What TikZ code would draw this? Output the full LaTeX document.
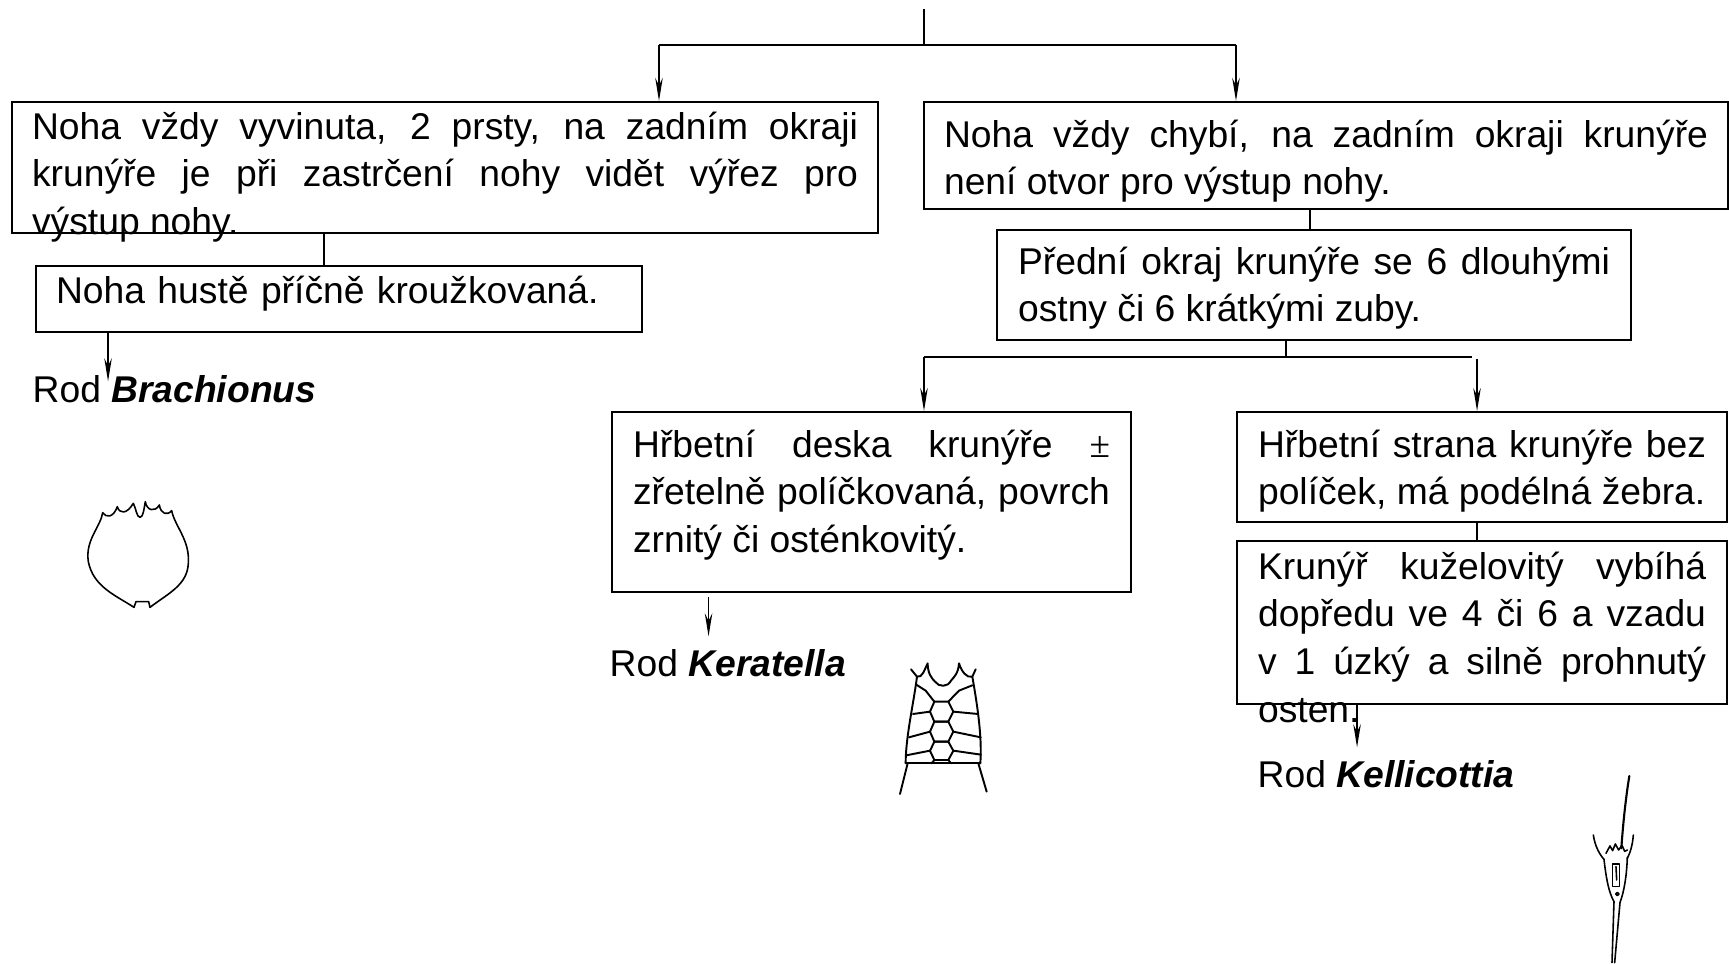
\documentclass[tikz,border=0pt]{standalone}
\usepackage{fontspec}
\setmainfont{Liberation Sans}
\newfontfamily\pmfont{Liberation Serif}
\usetikzlibrary{arrows.meta}
\hyphenpenalty=10000
\exhyphenpenalty=10000
\tolerance=10000
\hbadness=10000

\begin{document}
\begin{tikzpicture}[
  x=0.1mm, y=-0.1mm,
  font=\fontsize{10.6pt}{13.6pt}\selectfont,
  box/.style={draw, line width=0.6pt, anchor=north west, align=justify,
              inner ysep=0pt},
  genus/.style={anchor=base west, inner sep=0pt},
  link/.style={line width=0.45pt},
  arr/.style={link, -{Stealth[length=2.3mm, width=0.75mm]}},
  sketch/.style={line width=0.45pt, line join=round, line cap=round},
]
\useasboundingbox[fill=white] (0,0) rectangle (1729,964);

% ---- first couplet ------------------------------------------------------
\coordinate (root)  at (924,9);
\coordinate (fork)  at (924,45);
\coordinate (forkL) at (659,45);
\coordinate (forkR) at (1236,45);

\node[box, text width=82.6mm, inner xsep=2mm, text height=3.7mm, text depth=9.4mm]
  (foot) at (11,101)
  {Noha vždy vyvinuta, 2 prsty, na zadním okraji\linebreak
   krunýře je při zastrčení nohy vidět výřez pro\linebreak
   výstup nohy.};
\node[box, text width=76.4mm, inner xsep=2mm, text height=4.5mm, text depth=6.2mm]
  (nofoot) at (923,101)
  {Noha vždy chybí, na zadním okraji krunýře\linebreak
   není otvor pro výstup nohy.};

\draw[link] (root) -- (fork);
\draw[link] (forkL) -- (forkR);
\draw[arr] (forkL) -- (forkL |- foot.north);
\draw[arr] (forkR) -- (forkR |- nofoot.north);

% ---- left branch --------------------------------------------------------
\node[box, align=left, text width=56.6mm, inner xsep=2mm, text height=3.7mm,
      text depth=2.9mm]
  (ringed) at (35,265) {Noha hustě příčně kroužkovaná.};
\draw[link] ([xshift=-1.5mm]ringed.north) -- ([xshift=-1.5mm]ringed.north |- foot.south);

\node[genus] (brachionus) at (32,403) {Rod \textbf{\textit{Brachionus}}};
\draw[arr, shorten >=-0.6mm] ([xshift=-23.1mm]ringed.south)
  -- ([xshift=-23.1mm]ringed.south |- brachionus.north);

% ---- right branch -------------------------------------------------------
\node[box, text width=59.2mm, inner xsep=2.1mm, text height=4.4mm, text depth=6.6mm]
  (teeth) at (996,229)
  {Přední okraj krunýře se 6 dlouhými\linebreak
   ostny či 6 krátkými zuby.};
\draw[link] ([xshift=-0.4mm]teeth.north) -- ([xshift=-0.4mm]teeth.north |- nofoot.south);

\coordinate (splitL) at (924,357);
\coordinate (splitR) at (1472,357);
\draw[link] ([xshift=-2.8mm]teeth.south) -- ([xshift=-2.8mm]teeth.south |- splitL);
\draw[link] (splitL) -- (splitR);

\node[box, text width=47.7mm, inner xsep=2.1mm, text height=4.5mm, text depth=13.5mm]
  (plates) at (611,411)
  {Hřbetní deska krunýře {\pmfont ±}\linebreak
   zřetelně políčkovaná, povrch\linebreak
   zrnitý či osténkovitý.};
\node[box, text width=44.8mm, inner xsep=2.1mm, text height=4.5mm, text depth=6.5mm]
  (ribs) at (1236,411)
  {Hřbetní strana krunýře bez\linebreak
   políček, má podélná žebra.};
\draw[arr] (splitL) -- (splitL |- plates.north);
\draw[arr] ([xshift=-0.5mm, yshift=-0.2mm]ribs.north |- splitR) -- ([xshift=-0.5mm]ribs.north);

\node[box, text width=44.8mm, inner xsep=2.1mm, text height=3.8mm, text depth=12.5mm]
  (cone) at (1236,540)
  {Krunýř kuželovitý vybíhá\linebreak
   dopředu ve 4 či 6 a vzadu\linebreak
   v 1 úzký a silně prohnutý\linebreak
   osten.};
\draw[link] ([xshift=-0.5mm]cone.north) -- ([xshift=-0.5mm]cone.north |- ribs.south);

\node[genus] (keratella)   at (609,677)  {Rod \textbf{\textit{Keratella}}};
\node[genus] (kellicottia) at (1257,788) {Rod \textbf{\textit{Kellicottia}}};
\draw[arr, shorten >=1.3mm] ([xshift=-16.3mm, yshift=-0.4mm]plates.south)
  -- ([xshift=-16.3mm]plates.south |- keratella.north);
\draw[arr, shorten >=1.3mm] ([xshift=-12.5mm]cone.south)
  -- ([xshift=-12.5mm]cone.south |- kellicottia.north);

% ---- Brachionus lorica --------------------------------------------------
\begin{scope}[shift={(80,490)}, scale=1/3]
  \draw[sketch] (68,68)
    .. controls (78,84) and (100,84) .. (112,50)
    .. controls (118,72) and (140,74) .. (160,40)
    .. controls (168,55) and (170,82) .. (180,82)
    .. controls (190,82) and (192,55) .. (196,35)
    .. controls (200,62) and (225,68) .. (238,45)
    .. controls (242,72) and (262,78) .. (275,62)
    .. controls (285,110) and (330,150) .. (325,220)
    .. controls (322,285) and (265,310) .. (210,352)
    -- (206,335) -- (168,335) -- (162,352)
    .. controls (105,315) and (40,290) .. (25,215)
    .. controls (15,150) and (62,110) .. (68,68) -- cycle;
\end{scope}

% ---- Keratella lorica ---------------------------------------------------
\begin{scope}[shift={(885,650)}, scale=1/3, sketch, line width=0.55pt]
  \draw (78,58) -- (96,80) .. controls (86,160) and (62,260) .. (62,340);
  \draw (272,58) -- (262,80) .. controls (276,160) and (292,260) .. (286,340);
  \draw (96,80) .. controls (112,84) and (118,60) .. (128,40)
    .. controls (128,70) and (140,85) .. (150,95)
    .. controls (162,112) and (188,112) .. (198,92)
    .. controls (208,80) and (220,70) .. (222,40)
    .. controls (230,65) and (245,85) .. (262,80);
  \draw (62,340) -- (286,340);
  \draw (68,340) -- (45,432);
  \draw (280,340) -- (305,425);
  \foreach \t/\b in {155/215, 215/275, 275/330}
    \draw (148,\t) -- (190,\t) -- (205,{(\t+\b)/2}) -- (190,\b)
      -- (148,\b) -- (135,{(\t+\b)/2}) -- cycle;
  \draw (148,155) -- (122,122) -- (94,104);
  \draw (190,155) -- (222,122) -- (262,106);
  \draw (135,185) -- (84,192);
  \draw (205,185) -- (279,192);
  \draw (135,245) -- (72,262);
  \draw (205,245) -- (287,262);
  \draw (135,302) -- (64,316);
  \draw (205,302) -- (288,314);
  \draw (148,330) -- (140,340);
  \draw (190,330) -- (198,340);
\end{scope}

% ---- Kellicottia lorica -------------------------------------------------
\begin{scope}[shift={(1580,770)}, scale=1/3, sketch]
  \draw[line width=0.6pt] (148,18) .. controls (138,80) and (130,150) .. (124,235);
  \draw (40,195) .. controls (45,230) and (60,255) .. (72,268);
  \draw (160,195) .. controls (158,225) and (150,250) .. (142,265);
  \draw (72,268) .. controls (78,320) and (85,365) .. (102,395);
  \draw (142,262) .. controls (140,320) and (132,365) .. (120,398);
  \draw (78,250) -- (90,228) -- (98,242) -- (106,222) -- (116,240)
    -- (126,226) -- (134,244) -- (142,240);
  \draw (98,282) rectangle (118,350);
  \draw (108,290) -- (110,330);
  \draw (112,372) circle (5);
  \draw (102,395) -- (96,578);
  \draw (120,398) -- (104,578);
\end{scope}

\end{tikzpicture}
\end{document}
